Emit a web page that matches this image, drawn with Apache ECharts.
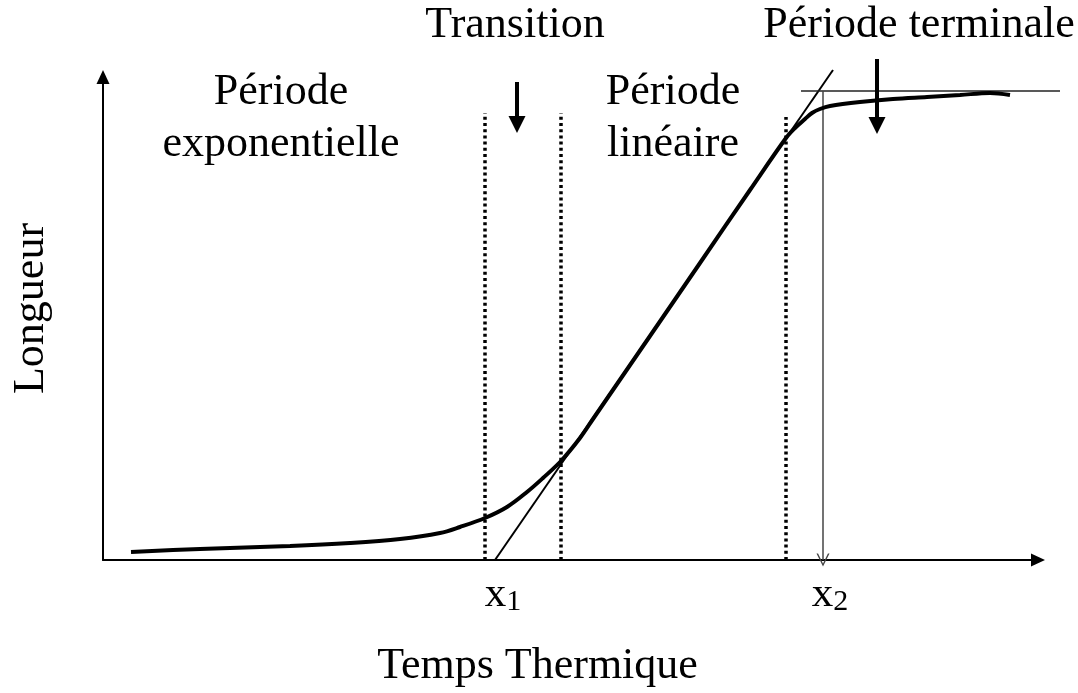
<!DOCTYPE html>
<html>
<head>
<meta charset="utf-8">
<script src="https://cdn.jsdelivr.net/npm/echarts@6/dist/echarts.min.js"></script>
<style>
  html, body { margin: 0; padding: 0; background: #fff; }
  #chart { width: 1078px; height: 693px; }
</style>
</head>
<body>
<div id="chart"></div>
<script>
// courbe de croissance (temps thermique, longueur) en unités arbitraires
var growthCurve = [
  [28, 8], [97, 11], [187, 14], [247, 17], [297, 21], [337, 27], [357, 33],
  [382, 42], [404, 53], [424, 68], [440, 82], [458, 99], [477, 122], [490, 141],
  [547, 224], [597, 297], [647, 370], [683, 422], [692, 432], [702, 441],
  [709, 447], [717, 451], [727, 454], [757, 458], [790, 461], [824, 463],
  [857, 465], [887, 467], [907, 465]
]
// tangente de la période linéaire
var tangentLine = [[392, 0], [730, 490]]
// plateau final
var plateauY = 469
var plateauX = [698, 957]
// limites des périodes (pointillés)
var phaseX = [382, 458, 683]
var phaseTop = [447, 447, 443]
// x1 et x2
var xMarks = [393, 720]
var xMarkNames = ['1', '2']
// flèches des annotations [x, début, pointe]
var transitionArrow = [414, 478, 427]
var terminalArrow = [774, 501, 426]

var chart = echarts.init(document.getElementById('chart'))
var FONT = '"Liberation Serif", "Times New Roman", serif'
var headLen = 17

var plainLines = []
phaseX.forEach(function (x, i) {
  plainLines.push({
    coords: [[x, 0], [x, phaseTop[i]]],
    lineStyle: { type: [3, 3.2], width: 3.5, color: '#000', cap: 'butt', opacity: 1 }
  })
})
plainLines.push({
  coords: tangentLine,
  lineStyle: { width: 2, color: '#000', type: 'solid', opacity: 1 }
})
plainLines.push({
  coords: [[plateauX[0], plateauY], [plateauX[1], plateauY]],
  lineStyle: { width: 1.5, color: '#222', type: 'solid', opacity: 1 }
})

var boldArrows = [transitionArrow, terminalArrow].map(function (a) {
  // le symbole est centré sur l'extrémité, on recule de la moitié de la tête
  return { coords: [[a[0], a[1]], [a[0], a[2] + headLen / 2]] }
})

chart.setOption({
  backgroundColor: '#fff',
  animation: false,
  grid: { left: 103, right: 40, top: 77, bottom: 133, outerBoundsMode: 'none', containLabel: false },
  xAxis: {
    type: 'value',
    min: 0,
    max: 935,
    name: 'Temps Thermique',
    nameLocation: 'middle',
    nameGap: 84,
    nameTextStyle: { fontFamily: FONT, fontSize: 44, color: '#000', padding: [0, 66, 0, 0] },
    axisLine: {
      show: true,
      symbol: ['none', 'triangle'],
      symbolSize: [13, 14],
      lineStyle: { color: '#000', width: 2 }
    },
    axisTick: { show: false },
    splitLine: { show: false },
    axisLabel: {
      customValues: xMarks,
      margin: 13,
      padding: [0, 0, 0, 14],
      formatter: function (v) {
        return '{a|x}{b|' + xMarkNames[xMarks.indexOf(v)] + '}'
      },
      rich: {
        a: { fontFamily: FONT, fontSize: 43, color: '#000', verticalAlign: 'top' },
        b: { fontFamily: FONT, fontSize: 30, color: '#000', verticalAlign: 'bottom', padding: [14, 0, 0, 0] }
      }
    }
  },
  yAxis: {
    type: 'value',
    min: 0,
    max: 483,
    name: 'Longueur',
    nameLocation: 'middle',
    nameRotate: 90,
    nameGap: 50,
    nameTextStyle: { fontFamily: FONT, fontSize: 44, color: '#000', padding: [0, 0, 0, 20] },
    axisLine: {
      show: true,
      symbol: ['none', 'triangle'],
      symbolSize: [13, 14],
      lineStyle: { color: '#000', width: 2 }
    },
    axisTick: { show: false },
    splitLine: { show: false },
    axisLabel: { show: false }
  },
  graphic: [
    { type: 'text', style: { x: 281, y: 118, text: 'Période\nexponentielle', align: 'center', verticalAlign: 'middle', lineHeight: 52, font: '44px ' + FONT, fill: '#000' } },
    { type: 'text', style: { x: 515, y: 25, text: 'Transition', align: 'center', verticalAlign: 'middle', font: '44px ' + FONT, fill: '#000' } },
    { type: 'text', style: { x: 673, y: 118, text: 'Période\nlinéaire', align: 'center', verticalAlign: 'middle', lineHeight: 52, font: '44px ' + FONT, fill: '#000' } },
    { type: 'text', style: { x: 919, y: 25, text: 'Période terminale', align: 'center', verticalAlign: 'middle', font: '44px ' + FONT, fill: '#000' } }
  ],
  series: [
    {
      type: 'lines',
      coordinateSystem: 'cartesian2d',
      clip: false,
      silent: true,
      symbol: 'none',
      data: plainLines
    },
    {
      type: 'lines',
      coordinateSystem: 'cartesian2d',
      clip: false,
      silent: true,
      symbol: ['none', 'triangle'],
      symbolSize: [18, headLen],
      lineStyle: { width: 4, color: '#000', type: 'solid', opacity: 1 },
      data: boldArrows
    },
    {
      type: 'lines',
      coordinateSystem: 'cartesian2d',
      clip: false,
      silent: true,
      symbol: ['none', 'path://M5,0 L10,13 L8.8,13 L5,3 L1.2,13 L0,13 Z'],
      symbolSize: [16, 13],
      symbolOffset: [0, [0, 6.5]],
      lineStyle: { width: 1.5, color: '#444', type: 'solid', opacity: 1 },
      data: [{ coords: [[xMarks[1], plateauY], [xMarks[1], 0]] }]
    },
    {
      type: 'line',
      data: growthCurve,
      smooth: 0.35,
      showSymbol: false,
      clip: false,
      lineStyle: { color: '#000', width: 4 }
    }
  ]
})
</script>
</body>
</html>
